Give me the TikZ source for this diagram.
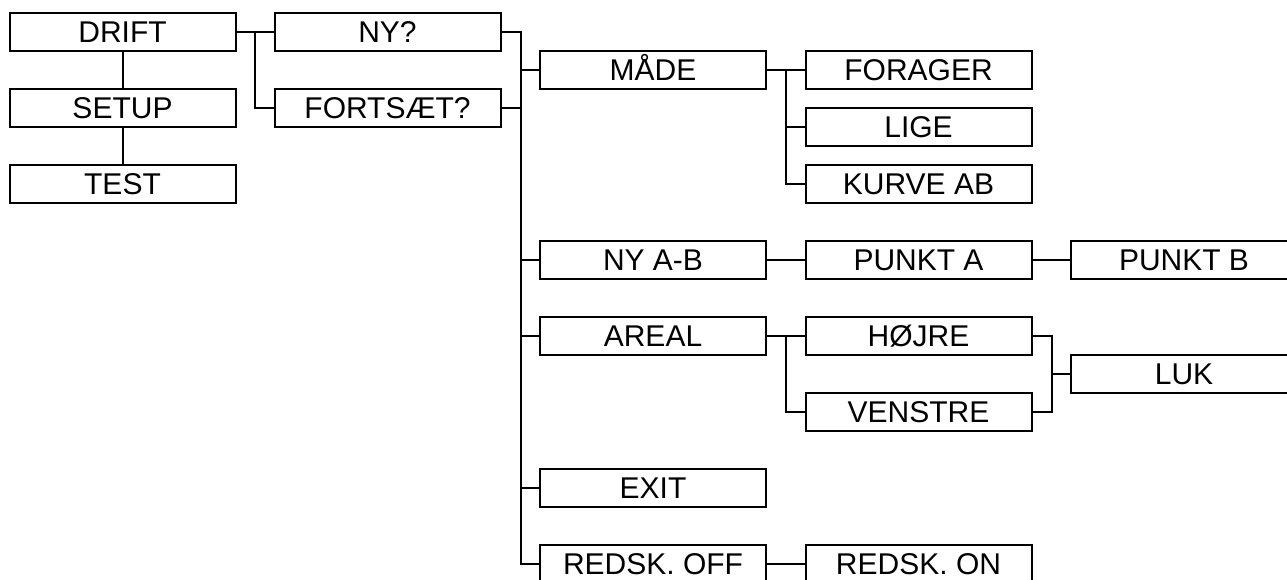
\documentclass[tikz,border=0pt]{standalone}
\usepackage{fontspec}
\setmainfont{Liberation Sans}
\begin{document}
\begin{tikzpicture}[x=0.75pt,y=-0.75pt,
  box/.style={draw, line width=1.5pt, minimum width=169.5pt, minimum height=28.5pt,
    inner sep=0pt, outer sep=0pt, text height=16.1pt, text depth=0pt,
    font=\fontsize{22.5}{25}\selectfont},
  conn/.style={line width=1.5pt}]
\useasboundingbox (0,0) rectangle (1287,579);
\clip (0,0) rectangle (1287,579);
% column 0
\node[box] (drift) at (122.5,32) {DRIFT};
\node[box] (setup) at (122.5,108) {SETUP};
\node[box] (test) at (122.5,184) {TEST};
% column 1
\node[box] (ny) at (387.5,32) {NY?};
\node[box] (fort) at (387.5,108) {FORTSÆT?};
% column 2
\node[box] (made) at (653,70) {MÅDE};
\node[box] (nyab) at (653,260) {NY A-B};
\node[box] (areal) at (653,336) {AREAL};
\node[box] (exit) at (653,488) {EXIT};
\node[box] (redoff) at (653,564) {REDSK. OFF};
% column 3
\node[box] (forager) at (918.5,70) {FORAGER};
\node[box] (lige) at (918.5,127) {LIGE};
\node[box] (kurve) at (918.5,184) {KURVE AB};
\node[box] (punkta) at (918.5,260) {PUNKT A};
\node[box] (hojre) at (918.5,336) {HØJRE};
\node[box] (venstre) at (918.5,412) {VENSTRE};
\node[box] (redon) at (918.5,564) {REDSK. ON};
% column 4
\node[box] (punktb) at (1184,260) {PUNKT B};
\node[box] (luk) at (1184,374) {LUK};
% branch points
\path (drift.east) ++(19,0) coordinate (db);
\path (ny.east) ++(20,0) coordinate (tr);
\path (made.east) ++(20,0) coordinate (mb);
\path (areal.east) ++(20,0) coordinate (ab);
\path (hojre.east) ++(20,0) coordinate (lb);
% connectors
\draw[conn] (drift.south) -- (setup.north);
\draw[conn] (setup.south) -- (test.north);
\draw[conn] (drift.east) -- (ny.west);
\draw[conn] (db) |- (fort.west);
\draw[conn] (ny.east) -- (tr) |- (redoff.west);
\draw[conn] (fort.east) -- (fort.east -| tr);
\draw[conn] (made.west) -- (made.west -| tr);
\draw[conn] (nyab.west) -- (nyab.west -| tr);
\draw[conn] (areal.west) -- (areal.west -| tr);
\draw[conn] (exit.west) -- (exit.west -| tr);
\draw[conn] (made.east) -- (forager.west);
\draw[conn] (mb) |- (kurve.west);
\draw[conn] (lige.west) -- (lige.west -| mb);
\draw[conn] (nyab.east) -- (punkta.west);
\draw[conn] (punkta.east) -- (punktb.west);
\draw[conn] (areal.east) -- (hojre.west);
\draw[conn] (ab) |- (venstre.west);
\draw[conn] (hojre.east) -- (lb) |- (venstre.east);
\draw[conn] (luk.west) -- (luk.west -| lb);
\draw[conn] (redoff.east) -- (redon.west);
\end{tikzpicture}
\end{document}
